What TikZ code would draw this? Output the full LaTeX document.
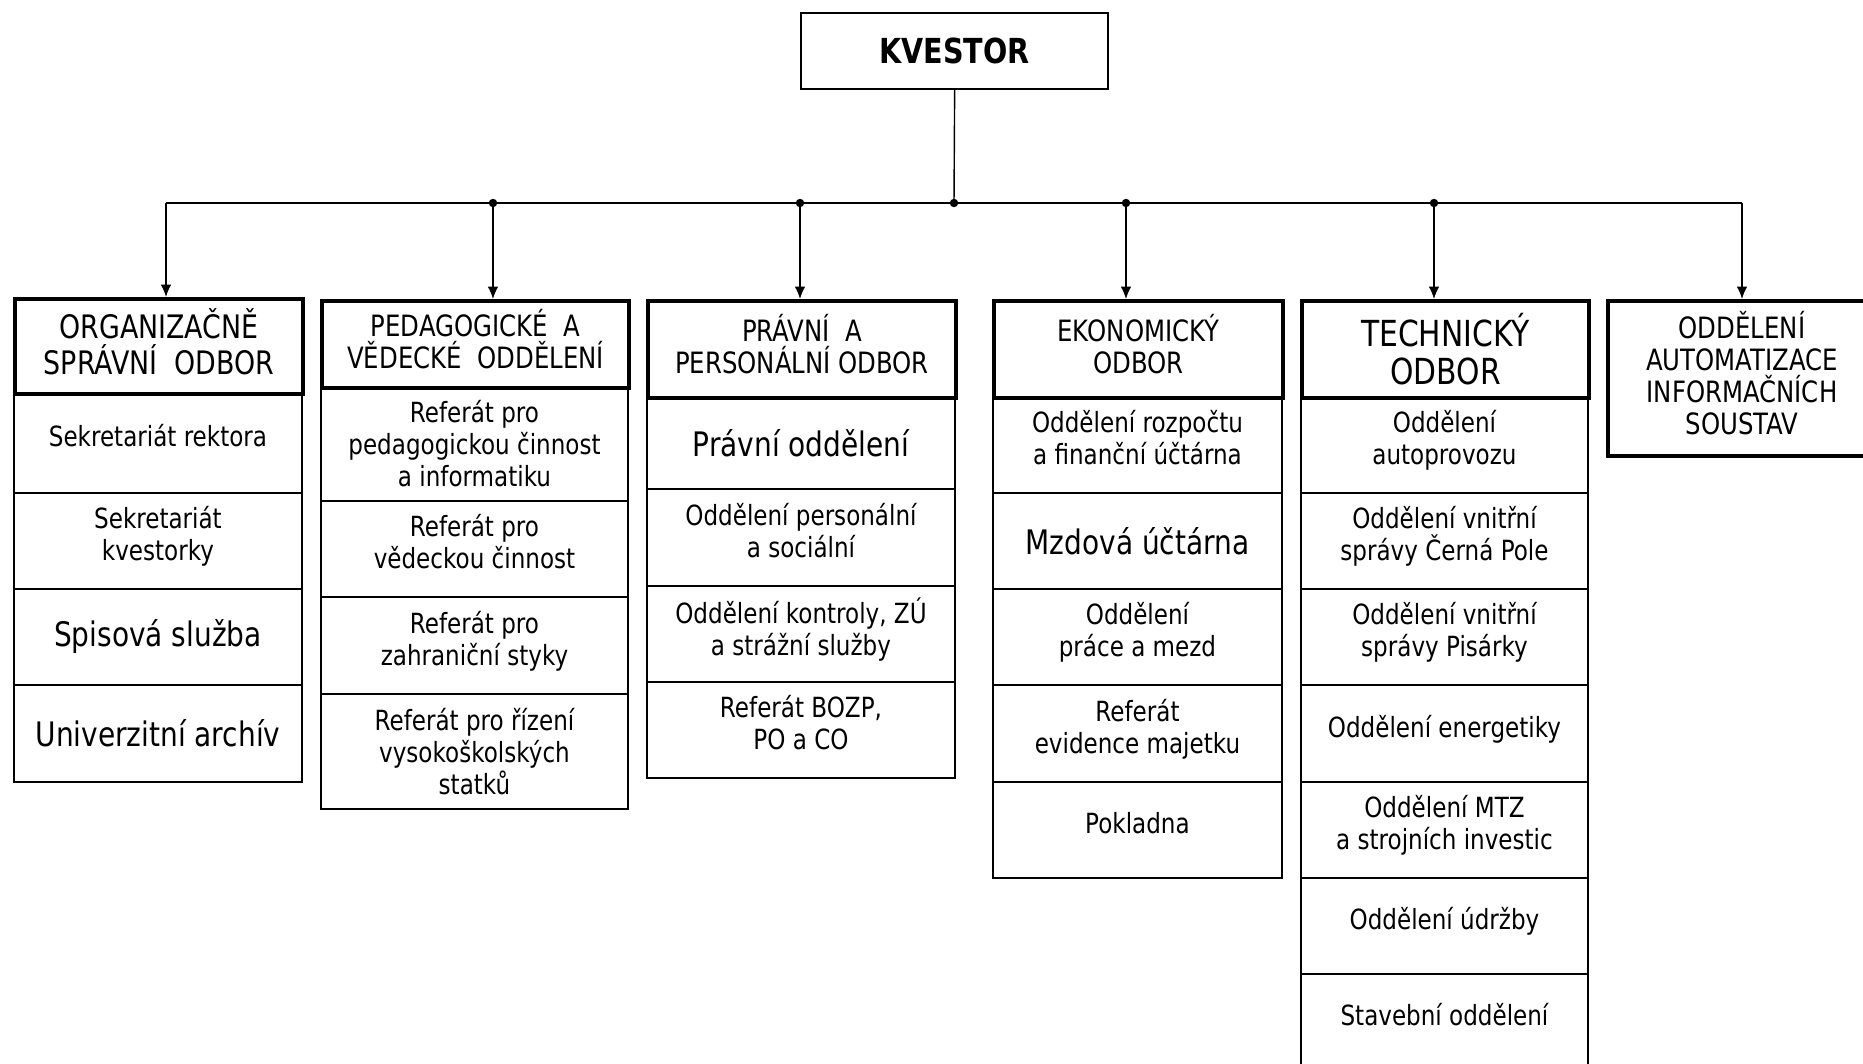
\documentclass[tikz,border=0pt]{standalone}
\usepackage{fontspec}
\setmainfont{DejaVu Sans}[FakeStretch=0.83]
\usetikzlibrary{arrows.meta}

\tikzset{
  box/.style={draw, line width=0.5pt, anchor=north west, align=center, inner sep=0pt, minimum height=0.96cm, font=\fontsize{7.9}{9.1}\selectfont},
  cell/.style={box, execute at end node={\rule[-4pt]{0pt}{4pt}}},
  bigcell/.style={box, font=\fontsize{9.6}{11}\selectfont},
  head/.style={box, line width=1.1pt, font=\fontsize{8.35}{9.1}\selectfont, execute at end node={\rule[-3pt]{0pt}{3pt}}},
  link/.style={line width=0.4pt, -{Latex[length=3.5pt,width=3pt]}},
  junction/.style={circle, fill, inner sep=0pt, minimum size=2.4pt},
}

\begin{document}
\begin{tikzpicture}[x=0.01cm, y=-0.01cm]
  \useasboundingbox (0,0) rectangle (1863,1064);

  \node (kvestor) [box, line width=0.6pt, minimum width=3.07cm, minimum height=0.76cm, font=\fontsize{9.8}{11}\selectfont\bfseries] at (800,12) {KVESTOR};

  \node (os1) [cell, minimum width=2.88cm, minimum height=1.00cm] at (13,392) {Sekretariát rektora};
  \node (os2) [cell, minimum width=2.88cm] at (13,492) {Sekretariát\\kvestorky};
  \node (os3) [bigcell, minimum width=2.88cm] at (13,588) {Spisová služba};
  \node (os4) [bigcell, minimum width=2.88cm, minimum height=0.97cm] at (13,684) {Univerzitní archív};
  \node (os) [head, minimum width=2.88cm, minimum height=0.95cm, font=\fontsize{9.2}{10.2}\selectfont] at (13,297) {ORGANIZAČNĚ\\SPRÁVNÍ~ ODBOR};

  \node (pv1) [box, minimum width=3.07cm, minimum height=1.14cm] at (320,386) {Referát pro\\pedagogickou činnost\\a informatiku};
  \node (pv2) [cell, minimum width=3.07cm] at (320,500) {Referát pro\\vědeckou činnost};
  \node (pv3) [cell, minimum width=3.07cm, minimum height=0.97cm] at (320,596) {Referát pro\\zahraniční styky};
  \node (pv4) [box, minimum width=3.07cm, minimum height=1.15cm] at (320,693) {Referát pro řízení\\vysokoškolských\\statků};
  \node (pv) [head, minimum width=3.07cm, minimum height=0.87cm] at (320,299) {PEDAGOGICKÉ~ A\\VĚDECKÉ~ ODDĚLENÍ};

  \node (pp1) [bigcell, minimum width=3.08cm, minimum height=0.92cm] at (646,396) {Právní oddělení};
  \node (pp2) [cell, minimum width=3.08cm, minimum height=0.97cm] at (646,488) {Oddělení personální\\a sociální};
  \node (pp3) [cell, minimum width=3.08cm] at (646,585) {Oddělení kontroly, ZÚ\\a strážní služby};
  \node (pp4) [cell, minimum width=3.08cm] at (646,681) {Referát BOZP,\\PO a CO};
  \node (pp) [head, minimum width=3.08cm, minimum height=0.97cm] at (646,299) {PRÁVNÍ~ A\\PERSONÁLNÍ ODBOR};

  \node (ek1) [cell, minimum width=2.89cm] at (992,396) {Oddělení rozpočtu\\a finanční účtárna};
  \node (ek2) [bigcell, minimum width=2.89cm] at (992,492) {Mzdová účtárna};
  \node (ek3) [cell, minimum width=2.89cm] at (992,588) {Oddělení\\práce a mezd};
  \node (ek4) [cell, minimum width=2.89cm, minimum height=0.97cm] at (992,684) {Referát\\evidence majetku};
  \node (ek5) [cell, minimum width=2.89cm] at (992,781) {Pokladna};
  \node (ek) [head, minimum width=2.89cm, minimum height=0.97cm] at (992,299) {EKONOMICKÝ\\ODBOR};

  \node (te1) [cell, minimum width=2.87cm] at (1300,396) {Oddělení\\autoprovozu};
  \node (te2) [cell, minimum width=2.87cm] at (1300,492) {Oddělení vnitřní\\správy Černá Pole};
  \node (te3) [cell, minimum width=2.87cm] at (1300,588) {Oddělení vnitřní\\správy Pisárky};
  \node (te4) [cell, minimum width=2.87cm, minimum height=0.97cm] at (1300,684) {Oddělení energetiky};
  \node (te5) [cell, minimum width=2.87cm] at (1300,781) {Oddělení MTZ\\a strojních investic};
  \node (te6) [cell, minimum width=2.87cm] at (1300,877) {Oddělení údržby};
  \node (te7) [cell, minimum width=2.87cm] at (1300,973) {Stavební oddělení};
  \node (te) [box, line width=1.1pt, minimum width=2.87cm, minimum height=0.97cm, font=\fontsize{10.2}{10.8}\selectfont] at (1300,299) {TECHNICKÝ\\ODBOR};

  \node (oa) [head, minimum width=2.68cm, minimum height=1.55cm] at (1606,299) {ODDĚLENÍ\\AUTOMATIZACE\\INFORMAČNÍCH\\SOUSTAV};

  \coordinate (b1) at (166,203);
  \coordinate (b2) at (493,203);
  \coordinate (b3) at (800,203);
  \coordinate (bk) at (954,203);
  \coordinate (b4) at (1126,203);
  \coordinate (b5) at (1434,203);
  \coordinate (b6) at (1742,203);

  \draw[line width=0.4pt] (kvestor.south) -- (bk);
  \draw[line width=0.6pt] (b1) -- (b6);
  \draw[link] (b1) -- (b1 |- os.north);
  \draw[link] (b2) -- (b2 |- pv.north);
  \draw[link] (b3) -- (b3 |- pp.north);
  \draw[link] (b4) -- (b4 |- ek.north);
  \draw[link] (b5) -- (b5 |- te.north);
  \draw[link] (b6) -- (b6 |- oa.north);
  \node[junction] at (b2) {};
  \node[junction] at (b3) {};
  \node[junction] at (bk) {};
  \node[junction] at (b4) {};
  \node[junction] at (b5) {};
\end{tikzpicture}
\end{document}
